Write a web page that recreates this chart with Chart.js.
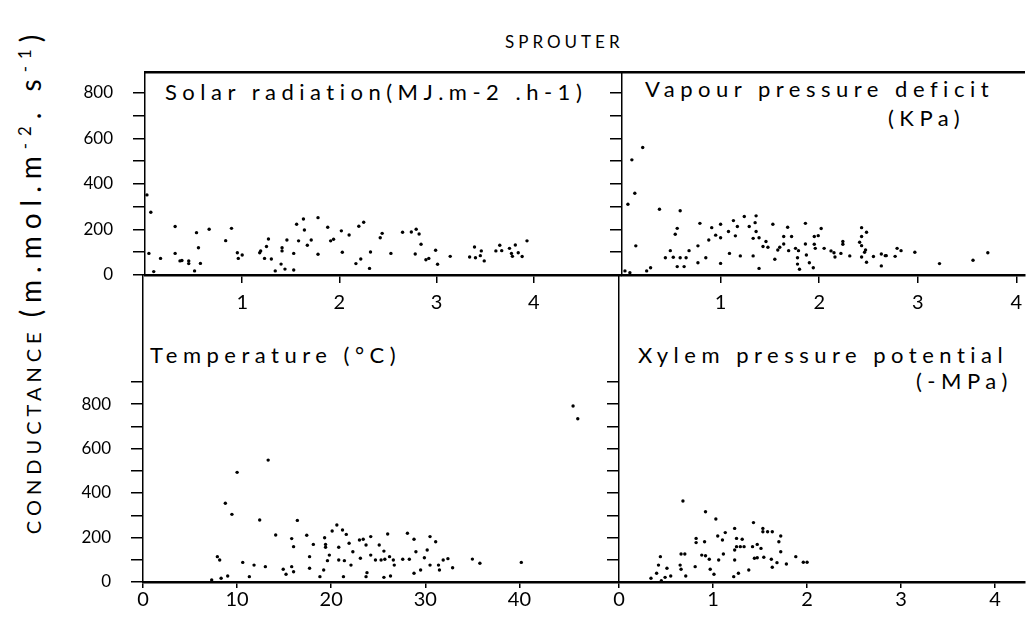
<!DOCTYPE html>
<html>
<head>
<meta charset="utf-8">
<script src="https://cdn.jsdelivr.net/npm/chart.js@4.4.0/dist/chart.umd.min.js"></script>
<style>
  body { margin: 0; background: #fff; }
  #wrap { position: relative; width: 1026px; height: 629px; background: #fff; overflow: hidden; font-family: Lato, "Open Sans", "DejaVu Sans", sans-serif; font-weight: 400; color: #000; }
  canvas { position: absolute; }
  .lbl { position: absolute; white-space: nowrap; font-size: 22px; letter-spacing: 5.5px; line-height: 1; }
  sup { font-size: 0.6em; }
</style>
</head>
<body>
<div id="wrap">
  <div class="lbl" style="left:505px;top:33px;font-size:17px;letter-spacing:4px;">SPROUTER</div>
  <div class="lbl" id="ytitle" style="left:30px;top:281px;font-size:20px;letter-spacing:5px;transform:translate(-50%,-50%) rotate(-90deg);">CONDUCTANCE&nbsp;<span style="font-size:28px;letter-spacing:7px;">(m.mol.m<sup>-2</sup>. s<sup>-1</sup>)</span></div>

  <div class="lbl" style="left:165px;top:81px;">Solar radiation(MJ.m-2 .h-1)</div>
  <div class="lbl" style="left:645px;top:78px;">Vapour pressure deficit</div>
  <div class="lbl" style="left:888px;top:107px;">(KPa)</div>
  <div class="lbl" style="left:150px;top:344px;">Temperature (°C)</div>
  <div class="lbl" style="left:638px;top:344px;">Xylem pressure potential</div>
  <div class="lbl" style="left:916px;top:370px;">(-MPa)</div>

  <canvas id="tl" width="622" height="260" style="left:0;top:60px"></canvas>
  <canvas id="tr" width="419" height="260" style="left:607px;top:60px"></canvas>
  <canvas id="bl" width="619" height="364" style="left:0;top:265px"></canvas>
  <canvas id="br" width="422" height="364" style="left:604px;top:265px"></canvas>
</div>
<script>
// solar radiation (MJ.m-2.h-1) vs conductance
const solarX = [0.02,0.06,0.04,0.09,0.16,0.31,0.31,0.36,0.38,0.45,0.45,0.51,0.53,0.55,0.57,0.66,0.83,0.89,0.95,0.96,
  1.00,1.18,1.19,1.23,1.25,1.27,1.30,1.34,1.40,1.41,1.41,1.44,1.46,1.53,1.53,1.56,1.58,1.63,1.64,1.67,1.71,1.78,1.78,
  1.88,1.91,1.94,2.02,2.03,2.10,2.17,2.20,2.22,2.25,2.31,2.32,2.42,2.44,2.53,2.65,2.74,2.79,2.82,2.84,2.78,2.89,2.92,
  2.99,3.01,3.14,3.34,3.39,3.40,3.45,3.46,3.49,3.61,3.65,3.67,3.75,3.77,3.81,3.78,3.84,3.88,3.93];
const solarG = [352,276,95,15,73,213,95,62,64,62,50,18,186,120,51,201,151,205,98,73,
  88,98,106,73,125,158,70,18,48,120,106,26,154,95,22,223,150,246,198,131,154,252,91,
  210,150,157,194,100,176,50,214,70,232,29,101,164,183,95,188,189,201,180,135,92,67,73,
  109,47,82,79,123,76,85,106,62,106,131,107,117,95,132,82,98,81,150];

// vapour pressure deficit (KPa)
const vpdX = [0.21,0.10,0.13,0.06,0.14,0.38,0.59,0.03,0.08,0.25,0.29,0.56,0.54,0.49,0.44,0.52,0.56,0.59,0.63,0.65,
  0.68,0.77,0.77,0.79,0.85,0.88,0.91,0.95,1.00,1.00,1.00,1.08,1.09,1.13,1.15,1.17,1.20,1.24,1.29,1.33,1.33,1.35,1.36,
  1.36,1.39,1.39,1.46,1.43,1.48,1.53,1.55,1.58,1.60,1.64,1.64,1.68,1.69,1.72,1.76,1.79,1.78,1.78,1.80,1.86,1.86,1.87,
  1.90,1.94,1.95,1.95,2.02,1.99,1.96,2.05,2.12,2.15,2.16,2.22,2.24,2.24,2.31,2.43,2.48,2.43,2.41,2.43,2.47,2.46,2.43,
  2.48,2.55,2.63,2.67,2.68,2.63,2.77,2.79,2.83,2.97,3.22,3.56,3.71];
const vpdG = [560,506,359,311,128,289,282,18,10,18,32,205,179,107,76,78,37,76,37,76,
  107,54,128,227,76,154,208,175,223,164,51,191,95,239,172,213,84,257,213,161,84,230,260,
  191,164,29,147,125,122,223,69,110,122,169,136,210,107,169,117,107,76,48,25,227,136,88,
  54,32,169,135,204,173,117,117,106,98,79,95,147,135,84,208,188,169,144,129,110,100,79,
  56,81,92,85,85,40,82,117,107,100,50,65,98];

// temperature (deg C)
const tempX = [13.3,10.0,8.75,9.45,12.4,16.4,14.1,15.8,16.0,17.4,18.1,17.7,19.3,19.4,19.4,19.8,19.6,20.1,20.6,21.2,
  21.6,20.8,20.8,21.4,21.9,22.3,22.1,23.0,23.4,23.7,24.2,23.1,24.2,24.7,23.8,7.9,8.15,7.3,8.3,9.0,10.6,11.8,13.0,11.3,
  14.9,15.2,15.8,16.0,17.7,18.8,19.2,21.3,23.7,26.0,28.1,28.8,30.5,31.1,30.2,29.0,25.6,25.1,25.3,25.7,26.2,26.6,26.7,
  27.6,28.3,29.9,30.5,31.4,31.9,32.4,32.9,31.5,29.5,28.8,26.3,25.6,35.0,35.8,40.2,45.7,46.2];
const tempG = [548,493,354,304,279,277,211,195,159,210,169,114,199,169,156,121,96,229,256,234,
  214,156,99,96,174,136,76,189,192,166,204,107,121,99,42,114,99,9,17,27,88,76,69,24,
  57,35,69,46,62,24,54,24,24,216,219,192,204,181,144,136,139,166,99,102,114,99,76,
  102,102,109,76,76,99,105,64,54,54,39,27,21,103,84,88,791,734];

// xylem pressure potential (-MPa)
const xppX = [0.68,0.92,1.03,1.43,1.23,1.13,1.05,1.10,0.82,0.82,0.91,1.25,1.31,1.53,1.53,1.58,1.63,1.72,1.70,1.47,
  1.42,1.51,1.29,1.23,1.25,1.33,1.23,1.11,1.06,0.96,0.92,0.88,0.70,0.66,0.65,0.66,0.71,0.81,0.97,1.01,1.22,1.27,1.38,
  1.44,1.47,1.54,1.62,1.63,1.68,1.72,1.78,1.88,1.96,2.00,0.44,0.42,0.51,0.55,0.49,0.40,0.34,0.45];
const xppG = [364,316,283,267,241,222,207,189,196,177,181,196,192,241,226,226,226,207,181,169,
  159,151,159,144,159,159,99,126,99,102,118,121,126,126,76,57,27,69,57,35,24,39,54,
  107,109,111,102,66,87,136,81,114,89,89,114,76,62,27,21,39,17,6];

const yTop = [0, 100, 200, 300, 400, 500, 600, 700, 800];
const yBottom = [0, 100, 200, 300, 400, 500, 600, 700, 800, 900];
const yLabelled = [0, 200, 400, 600, 800];

const ink = '#000';
const tickFont = { family: 'Lato, "Open Sans", "DejaVu Sans", sans-serif', size: 20, weight: '400' };

function noPad(s) {
  s.paddingTop = 0; s.paddingBottom = 0; s.paddingLeft = 0; s.paddingRight = 0;
}

function panel(id, xs, ys, o) {
  const scales = {
    x: {
      type: 'linear', position: 'bottom', min: 0, max: o.xMax,
      afterBuildTicks: s => { s.ticks = o.xTicks.map(v => ({ value: v })); },
      afterFit: s => { s.height = o.xHeight; noPad(s); },
      grid: { drawOnChartArea: false, drawTicks: true, tickLength: o.xTickLen, color: ink, lineWidth: 1.5 },
      border: { display: true, color: ink, width: 2.5 },
      ticks: { color: ink, font: tickFont, padding: o.xPad, maxRotation: 0, autoSkip: false,
        callback: v => o.xLabels.includes(v) ? String(v) : '' }
    },
    y: {
      type: 'linear', position: 'left', min: 0, max: o.yMax,
      afterBuildTicks: s => { s.ticks = o.yTicks.map(v => ({ value: v })); },
      afterFit: s => { s.width = o.yWidth; noPad(s); },
      grid: { drawOnChartArea: false, drawTicks: true, tickLength: 12, color: ink, lineWidth: 1.5 },
      border: { display: true, color: ink, width: 1.5 },
      ticks: { color: ink, font: { ...tickFont, size: 17 }, padding: 20, autoSkip: false,
        callback: v => (o.yLabels && yLabelled.includes(v)) ? String(v) : '' }
    }
  };
  if (o.topBorder) {
    scales.top = {
      axis: 'x', type: 'linear', position: 'top', min: 0, max: o.xMax, display: true,
      afterFit: s => { s.height = 0; noPad(s); },
      grid: { display: false },
      border: { display: true, color: ink, width: 2.5 },
      ticks: { display: false }
    };
  }
  return new Chart(document.getElementById(id), {
    type: 'scatter',
    data: {
      datasets: [{
        data: xs.map((x, i) => ({ x: x, y: ys[i] })),
        backgroundColor: ink, borderColor: ink, pointRadius: 1.7, pointHoverRadius: 1.7, borderWidth: 0
      }]
    },
    options: {
      responsive: false, animation: false, devicePixelRatio: 1,
      layout: { padding: { top: o.padTop, left: 0, right: 0, bottom: 0 } },
      plugins: { legend: { display: false }, tooltip: { enabled: false } },
      scales: scales
    }
  });
}

panel('tl', solarX, solarG, { xMax: 4.89, xTicks: [1, 2, 3, 4], xLabels: [1, 2, 3, 4], xHeight: 45, xTickLen: 8, xPad: 8,
  yMax: 892, yTicks: yTop, yLabels: true, yWidth: 145, padTop: 12, topBorder: true });
panel('tr', vpdX, vpdG, { xMax: 4.08, xTicks: [1, 2, 3, 4], xLabels: [1, 2, 3, 4], xHeight: 45, xTickLen: 8, xPad: 8,
  yMax: 892, yTicks: yTop, yLabels: false, yWidth: 15, padTop: 12, topBorder: true });
panel('bl', tempX, tempG, { xMax: 50.4, xTicks: [0, 10, 20, 30, 40], xLabels: [0, 10, 20, 30, 40], xHeight: 47, xTickLen: 6, xPad: 0,
  yMax: 1380, yTicks: yBottom, yLabels: true, yWidth: 143, padTop: 10, topBorder: false });
panel('br', xppX, xppG, { xMax: 4.31, xTicks: [0, 1, 2, 3, 4], xLabels: [0, 1, 2, 3, 4], xHeight: 47, xTickLen: 6, xPad: 0,
  yMax: 1380, yTicks: yBottom, yLabels: false, yWidth: 15, padTop: 10, topBorder: false });
</script>
</body>
</html>
